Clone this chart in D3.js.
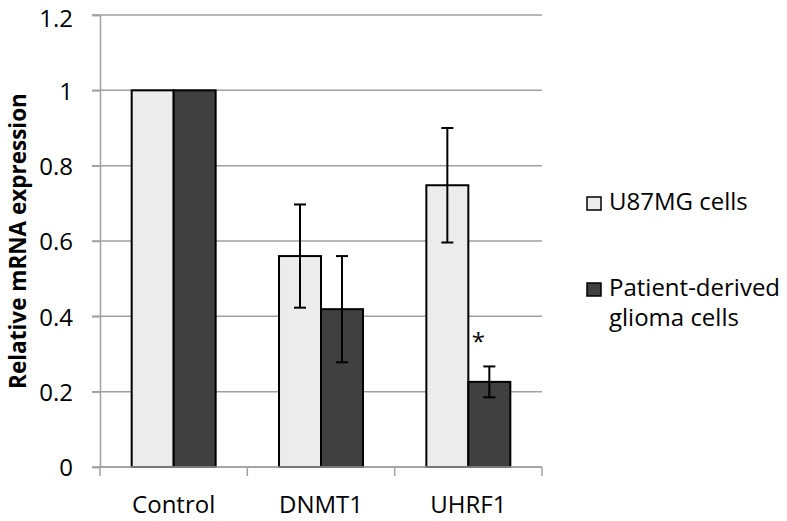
<!DOCTYPE html>
<html>
<head>
<meta charset="utf-8">
<script src="https://cdn.jsdelivr.net/npm/d3@7"></script>
<style>
  body { margin: 0; background: #fff; }
  text { font-family: "Open Sans", sans-serif; fill: #000; }
</style>
</head>
<body>
<script>
// chart data
var categories = ["Control", "DNMT1", "UHRF1"];
var series = ["U87MG cells", "Patient-derived glioma cells"];
var u87 = [1, 0.56, 0.748];
var u87Err = [0, 0.137, 0.152];
var patient = [1, 0.419, 0.226];
var patientErr = [0, 0.141, 0.041];
var yTicks = [0, 0.2, 0.4, 0.6, 0.8, 1, 1.2];

var colors = ["#ececec", "#404040"];

var width = 787, height = 521;
var plot = {left: 100, right: 542, top: 15, bottom: 467};

var svg = d3.select("body").append("svg")
    .attr("width", width)
    .attr("height", height);

// scales
var x0 = d3.scaleBand().domain(categories)
    .range([plot.left, plot.right])
    .paddingInner(0.43).paddingOuter(0.215);
var x1 = d3.scaleBand().domain([0, 1]).range([0, x0.bandwidth()]);
var y = d3.scaleLinear().domain([0, 1.2]).range([plot.bottom, plot.top]);

// gridlines
svg.append("g").selectAll("line").data(yTicks).enter().append("line")
    .attr("x1", plot.left - 8)
    .attr("x2", plot.right)
    .attr("y1", function(d) { return y(d); })
    .attr("y2", function(d) { return y(d); })
    .style("stroke", "#a0a0a0")
    .style("stroke-width", 1.5);

// y axis
var yAxis = svg.append("g")
    .attr("transform", "translate(" + plot.left + ",0)")
    .call(d3.axisLeft(y).tickValues(yTicks).tickSize(8).tickPadding(19)
        .tickFormat(function(d) { return d3.format("")(+d.toFixed(1)); }));
yAxis.select(".domain").style("stroke", "#a0a0a0").style("stroke-width", 1.5);
yAxis.selectAll(".tick line").style("stroke", "#a0a0a0").style("stroke-width", 1.5);
yAxis.selectAll("text").style("font-size", "24px")
    .attr("dy", function(d) { return d === 1.2 ? "0.46em" : "0.37em"; });

// bars
var groups = svg.append("g").selectAll("g").data(categories).enter().append("g")
    .attr("transform", function(d) { return "translate(" + x0(d) + ",0)"; });

var values = [u87, patient];
var errs = [u87Err, patientErr];

groups.each(function(c, i) {
    var g = d3.select(this);
    [0, 1].forEach(function(s) {
        var v = values[s][i], e = errs[s][i];
        g.append("rect")
            .attr("x", x1(s))
            .attr("y", y(v))
            .attr("width", x1.bandwidth())
            .attr("height", y(0) - y(v))
            .style("fill", colors[s])
            .style("stroke", "#000")
            .style("stroke-width", 2);
        if (e > 0) {
            var cx = x1(s) + x1.bandwidth() / 2;
            g.append("line")
                .attr("x1", cx).attr("x2", cx)
                .attr("y1", y(v + e)).attr("y2", y(v - e))
                .style("stroke", "#000").style("stroke-width", 2);
            [v + e, v - e].forEach(function(t) {
                g.append("line")
                    .attr("x1", cx - 6).attr("x2", cx + 6)
                    .attr("y1", y(t)).attr("y2", y(t))
                    .style("stroke", "#000").style("stroke-width", 2);
            });
        }
    });
});

// significance mark on UHRF1 patient-derived bar
var starX = x0("UHRF1") + x1(1) + x1.bandwidth() / 2 - 11;
svg.append("text")
    .attr("x", starX)
    .attr("y", y(patient[2] + patientErr[2]) - 16)
    .attr("text-anchor", "middle")
    .style("font-size", "24px")
    .text("*");

// x axis
var xAxis = svg.append("g")
    .attr("transform", "translate(0," + plot.bottom + ")");
xAxis.append("line")
    .attr("x1", plot.left).attr("x2", plot.right)
    .style("stroke", "#a0a0a0").style("stroke-width", 1.5);
var bounds = categories.map(function(c) { return x0(c) - x0.step() * x0.paddingInner() / 2; });
bounds.push(plot.right);
xAxis.selectAll(".tk").data(bounds).enter().append("line")
    .attr("x1", function(d) { return d; }).attr("x2", function(d) { return d; })
    .attr("y1", 0).attr("y2", 9)
    .style("stroke", "#a0a0a0").style("stroke-width", 1.5);
xAxis.selectAll(".lbl").data(categories).enter().append("text")
    .attr("x", function(d) { return x0(d) + x0.bandwidth() / 2; })
    .attr("y", 46)
    .attr("text-anchor", "middle")
    .style("font-size", "24px")
    .text(function(d) { return d; });

// y axis title
svg.append("text")
    .attr("transform", "translate(26," + ((plot.top + plot.bottom) / 2) + ") rotate(-90)")
    .attr("text-anchor", "middle")
    .style("font-size", "22.5px")
    .style("font-weight", "bold")
    .text("Relative mRNA expression");

// legend
var legend = [
    {y: 197, lines: ["U87MG cells"]},
    {y: 283, lines: ["Patient-derived", "glioma cells"]}
];
legend.forEach(function(l, i) {
    svg.append("rect")
        .attr("x", 587).attr("y", l.y)
        .attr("width", 14).attr("height", 13)
        .style("fill", colors[i])
        .style("stroke", "#000").style("stroke-width", 1.5);
    l.lines.forEach(function(t, j) {
        svg.append("text")
            .attr("x", 609)
            .attr("y", l.y + 13 + j * 30)
            .style("font-size", "24px")
            .text(t);
    });
});
</script>
</body>
</html>
